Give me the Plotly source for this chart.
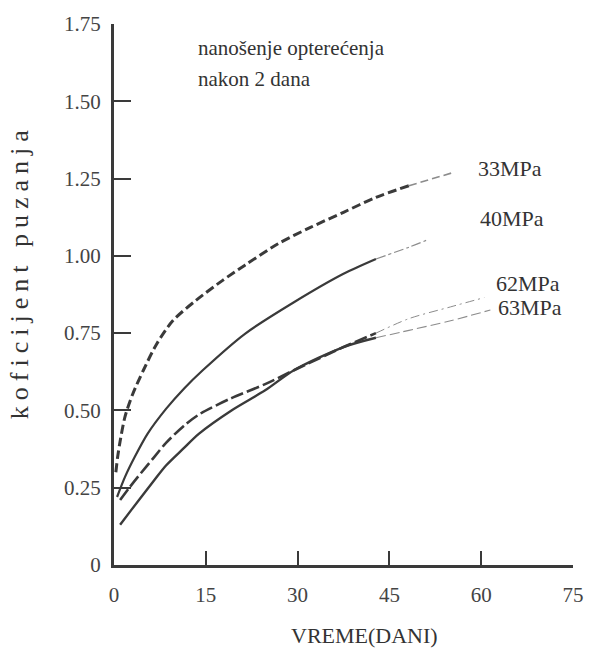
import plotly.graph_objects as go

# ---- data ----
days_33 = [0.3, 0.6, 1.0, 1.8, 3.0, 4.8, 7.0, 9.6, 13.4, 17.7, 21.4, 26.8, 32.1, 37.5, 42.8, 48.2, 55.5]
kp_33 = [0.30, 0.35, 0.40, 0.48, 0.55, 0.63, 0.716, 0.79, 0.856, 0.92, 0.97, 1.039, 1.092, 1.141, 1.189, 1.227, 1.27]

days_40 = [0.5, 1.8, 3.4, 5.5, 8.5, 11.5, 14.5, 21.4, 29.4, 37.5, 42.8, 48.2, 51.0]
kp_40 = [0.22, 0.285, 0.35, 0.425, 0.505, 0.572, 0.63, 0.748, 0.85, 0.942, 0.99, 1.028, 1.05]

days_62 = [1.0, 2.5, 3.9, 6.6, 8.5, 11.4, 13.9, 19.2, 24.7, 29.4, 37.5, 42.8, 48.2, 55.0, 60.5]
kp_62 = [0.21, 0.25, 0.285, 0.35, 0.395, 0.45, 0.487, 0.54, 0.585, 0.63, 0.705, 0.75, 0.797, 0.835, 0.865]

days_63 = [1.0, 2.9, 6.6, 8.5, 11.4, 13.9, 19.2, 24.7, 29.4, 37.5, 42.8, 48.2, 55.0, 61.5]
kp_63 = [0.13, 0.18, 0.275, 0.322, 0.378, 0.425, 0.50, 0.565, 0.63, 0.705, 0.735, 0.759, 0.79, 0.825]

series_names = ["33MPa", "40MPa", "62MPa", "63MPa"]
label_x = [59.1, 59.5, 62.1, 62.4]
label_y = [1.282, 1.12, 0.91, 0.833]

x_ticks = [0, 15, 30, 45, 60, 75]
x_ticktext = ["0", "15", "30", "45", "60", "75"]
y_ticks = [0, 0.25, 0.5, 0.75, 1.0, 1.25, 1.5, 1.75]
y_ticktext = ["0", "0.25", "0.50", "0.75", "1.00", "1.25", "1.50", "1.75"]

title_lines = ["nanošenje opterećenja", "nakon 2 dana"]
x_title = "VREME(DANI)"
y_title = "koficijent puzanja"

# ---- styling ----
FONT = "Liberation Serif"
INK = "#3a3a3a"
TXT = "#333333"
FADED = "#8c8c8c"


def part(xs, ys, lo, hi):
    px = [a for a in xs if lo <= a <= hi]
    py = [b for a, b in zip(xs, ys) if lo <= a <= hi]
    return px, py


fig = go.Figure()

styles = [
    # (days, values, split day, main dash, main width, tail dash, tail width)
    (days_33, kp_33, 48.2, "9px,4px", 3.0, "8px,4px", 1.6),
    (days_40, kp_40, 42.8, "solid", 2.2, "10px,3px,3px,3px", 1.2),
    (days_62, kp_62, 42.8, "13px,4px", 2.6, "9px,4px,2px,4px", 1.0),
    (days_63, kp_63, 42.8, "solid", 2.4, "10px,4px", 1.1),
]

for name, (dx, vy, split, d1, w1, d2, w2) in zip(series_names, styles):
    mx, my = part(dx, vy, 0, split)
    tx, ty = part(dx, vy, split, 100)
    fig.add_trace(go.Scatter(x=mx, y=my, mode="lines", name=name,
                             line=dict(color=INK, width=w1, dash=d1, shape="spline", smoothing=0.8),
                             showlegend=False, hoverinfo="skip"))
    fig.add_trace(go.Scatter(x=tx, y=ty, mode="lines", name=name,
                             line=dict(color=FADED, width=w2, dash=d2, shape="spline", smoothing=0.8),
                             showlegend=False, hoverinfo="skip"))

for name, lx, ly in zip(series_names, label_x, label_y):
    fig.add_annotation(x=lx, y=ly, xref="x", yref="y", text=name, showarrow=False,
                       xanchor="left", yanchor="middle",
                       font=dict(family=FONT, size=22, color=TXT))

fig.add_annotation(x=0.1777, y=0.9557, xref="paper", yref="paper", text=title_lines[0],
                   showarrow=False, xanchor="left", yanchor="middle",
                   font=dict(family=FONT, size=21, color=TXT))
fig.add_annotation(x=0.1777, y=0.8985, xref="paper", yref="paper", text=title_lines[1],
                   showarrow=False, xanchor="left", yanchor="middle",
                   font=dict(family=FONT, size=21, color=TXT))

fig.add_annotation(x=0.545, y=-0.131, xref="paper", yref="paper", text=x_title,
                   showarrow=False, xanchor="center", yanchor="middle",
                   font=dict(family=FONT, size=22, color=TXT))

fig.add_annotation(x=-0.2056, y=0.5424, xref="paper", yref="paper", text=y_title,
                   showarrow=False, xanchor="center", yanchor="middle", textangle=-90,
                   font=dict(family=FONT, size=26, color=TXT))

axis_common = dict(showline=True, linewidth=3, linecolor=INK, showgrid=False,
                   zeroline=False, ticks="inside", tickwidth=2, tickcolor=INK,
                   tickfont=dict(family=FONT, size=21, color="#444444"))

fig.update_layout(
    width=596, height=651,
    margin=dict(l=114, r=15, t=23, b=86),
    paper_bgcolor="white", plot_bgcolor="white",
    xaxis=dict(range=[0, 75], tickvals=x_ticks, ticktext=x_ticktext, ticklen=14,
               ticklabelstandoff=9, **axis_common),
    yaxis=dict(range=[0, 1.75], tickvals=y_ticks, ticktext=y_ticktext, ticklen=17,
               ticklabelstandoff=6, **axis_common),
)

post = """
var gd = document.getElementById('{plot_id}');
gd.querySelectorAll('.annotation-text').forEach(function(t){
  if (t.textContent === 'koficijent puzanja') { t.style.letterSpacing = '6px'; }
});
"""

fig.write_html("out.html", post_script=post)
